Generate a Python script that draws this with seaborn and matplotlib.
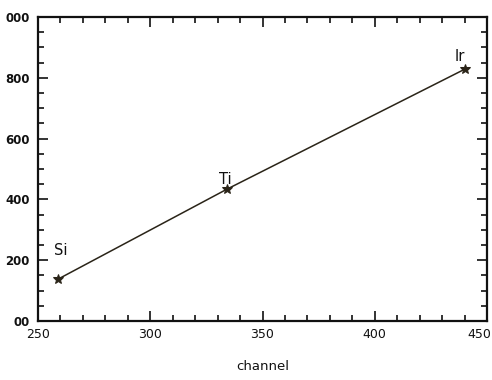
import matplotlib
matplotlib.use("Agg")
import matplotlib.pyplot as plt
import matplotlib.transforms as mtransforms
import seaborn as sns
import pandas as pd
from matplotlib.ticker import MultipleLocator

elements = ["Si", "Ti", "Ir"]
channel = [259, 334, 440]
energy = [138, 433, 828]
x_ticks = [250, 300, 350, 400, 450]
y_ticks = [0, 200, 400, 600, 800, 1000]
y_tick_labels = ["00", "200", "400", "600", "800", "000"]

df = pd.DataFrame({"channel": channel, "energy": energy, "element": elements})

sns.set_theme(style="ticks")
plt.rcParams["font.family"] = ["DejaVu Sans"]

fig = plt.figure(figsize=(4.92, 3.8), dpi=100)
ax = fig.add_axes([38 / 492, 1 - 321 / 380, (487 - 38) / 492, (321 - 17) / 380])

sns.lineplot(data=df, x="channel", y="energy", ax=ax, color="#2a2418", linewidth=1.1,
             marker="*", markersize=7, markeredgecolor="#2a2418", markerfacecolor="#2a2418")

offsets = {"Si": (3, 29), "Ti": (-1, 10), "Ir": (-5, 13)}
for el, cx, ey in zip(elements, channel, energy):
    ax.annotate(el, (cx, ey), textcoords="offset pixels", xytext=offsets[el],
                ha="center", va="center", fontsize=10.5, color="#111111")

ax.set_xlim(250, 450)
ax.set_ylim(0, 1000)
ax.set_xticks(x_ticks)
ax.set_xticklabels([str(v) for v in x_ticks], fontsize=9, color="#111111")
ax.set_yticks(y_ticks)
ax.set_yticklabels(y_tick_labels, fontsize=8.5, fontweight="bold", color="#111111")
ax.xaxis.set_minor_locator(MultipleLocator(10))
ax.yaxis.set_minor_locator(MultipleLocator(50))
ax.tick_params(which="both", direction="in", top=True, right=True, color="#111111", width=1.2)
ax.tick_params(which="major", length=7)
ax.tick_params(which="minor", length=4)
ax.tick_params(axis="y", which="major", pad=6)
ax.tick_params(axis="x", which="major", pad=5)
for s in ax.spines.values():
    s.set_linewidth(1.6)
    s.set_color("#111111")

# keep the last x tick label inside the figure, as in the reference
last = ax.get_xticklabels()[-1]
last.set_transform(last.get_transform() + mtransforms.ScaledTranslation(-8 / 100, 0, fig.dpi_scale_trans))

ax.set_xlabel("channel", fontsize=9.5, color="#111111", labelpad=14)
ax.set_ylabel("")

fig.savefig("out.png", dpi=100)
